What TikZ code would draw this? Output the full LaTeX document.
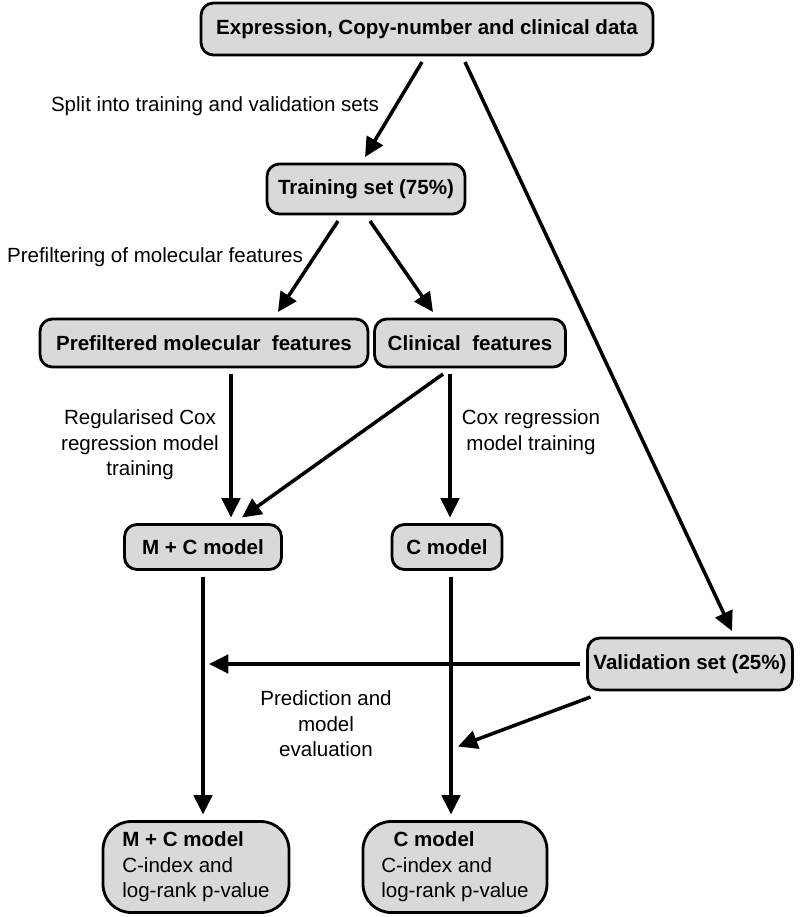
\documentclass[tikz,border=0pt]{standalone}
\usepackage{fontspec}
\setmainfont{Liberation Sans}
\usepackage{tikz}
\usetikzlibrary{arrows.meta,positioning,calc}
\newcommand{\figfont}{\fontsize{11.7pt}{14.5pt}\selectfont}

\begin{document}
\begin{tikzpicture}[
    x=0.02cm, y=-0.02cm,
    box/.style={draw, line width=1.6pt, fill=black!15, rounded corners=7pt,
      font=\figfont\bfseries, outer sep=4pt, inner sep=2pt},
    result/.style={box, rounded corners=16pt, font=\figfont, align=left},
    lbl/.style={font=\figfont, align=center},
    arr/.style={-{Triangle[length=11pt, width=10.5pt]}, line width=2pt},
  ]
  \useasboundingbox (0,0) rectangle (800,917);

  % Data and split
  \node[box, minimum width=9.04cm, minimum height=1.04cm] (data) at (427,29)
    {Expression, Copy-number and clinical data};
  \node[box, minimum width=3.96cm, minimum height=1.0cm] (train) at (366,189)
    {Training set (75\%)};
  \node[lbl] (splitlbl) at (215,106) {Split into training and validation sets};

  % Feature sets
  \node[box, minimum width=6.56cm, minimum height=0.96cm] (prefilt) at (204,343)
    {Prefiltered molecular~ features};
  \node[box, minimum width=3.82cm, minimum height=0.96cm] (clin) at (470,343)
    {Clinical~ features};
  \node[lbl] (prelbl) at (155,257) {Prefiltering of molecular features};

  % Trained models
  \node[box, minimum width=3.14cm, minimum height=0.9cm] (mc) at (203,547)
    {M + C model};
  \node[box, minimum width=2.2cm, minimum height=0.9cm] (cm) at (447,547)
    {C model};
  \node[lbl] (reglbl) at (140,445) {Regularised Cox\\regression model\\training};
  \node[lbl] (coxlbl) at (531,432) {Cox regression\\model training};

  % Validation and results
  \node[box, minimum width=4.1cm, minimum height=1.04cm] (valid) at (690,664)
    {Validation set (25\%)};
  \node[lbl] (evallbl) at (326,724) {Prediction and\\model\\evaluation};
  \node[result, minimum width=3.72cm, minimum height=1.82cm] (mcres) at (196,867)
    {\textbf{M + C model}\\C-index and\\log-rank p-value};
  \node[result, minimum width=3.68cm, minimum height=1.82cm] (cres) at (455,867)
    {\hspace*{7pt}\textbf{C model}\\C-index and\\log-rank p-value};

  \coordinate (evalL) at ($(mc.south |- valid.west)+(6,0)$);
  \coordinate (evalC) at ($(cm.south)+(11,170)$);

  % Arrows
  \draw[arr] ([xshift=-0.1cm]data.south) -- ([xshift=-0.02cm]train.north);
  \draw[arr] ([xshift=0.76cm]data.south) -- ([xshift=0.84cm]valid.north);
  \draw[arr] ([xshift=-0.56cm]train.south) -- ([xshift=1.48cm]prefilt.north);
  \draw[arr] ([xshift=0.08cm]train.south) -- ([xshift=-0.74cm]clin.north);
  \draw[arr] ([xshift=0.54cm]prefilt.south) coordinate (p1) -- (p1 |- mc.north);
  \draw[arr] ([xshift=-0.54cm]clin.south) -- ([xshift=0.78cm]mc.north);
  \draw[arr] ([xshift=-0.4cm]clin.south) coordinate (p2) -- (p2 |- cm.north);
  \draw[arr] (mc.south) -- (mc.south |- mcres.north);
  \draw[arr] ([xshift=0.08cm]cm.south) coordinate (p3) -- (p3 |- cres.north);
  \draw[arr] (valid.west) -- (evalL);
  \draw[arr] ([xshift=0.2cm]valid.south west) -- (evalC);

\end{tikzpicture}
\end{document}
